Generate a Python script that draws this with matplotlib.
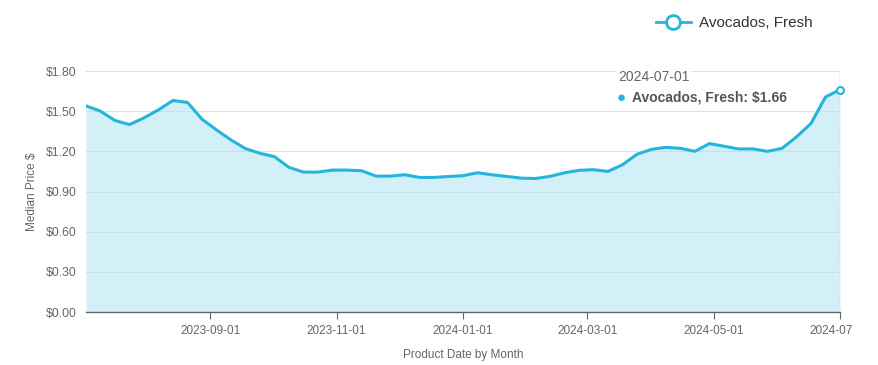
import numpy as np
import pandas as pd
import matplotlib
matplotlib.use("Agg")
import matplotlib.pyplot as plt
import matplotlib.dates as mdates
from matplotlib.lines import Line2D
from matplotlib.transforms import Bbox

# 週次の中央値価格 (2023-07-03 〜 2024-07-01, 月曜)
dates = pd.date_range("2023-07-03", "2024-07-01", freq="7D")
prices = [1.54, 1.50, 1.43, 1.40, 1.45, 1.51, 1.58, 1.565, 1.44, 1.36,
          1.285, 1.22, 1.185, 1.16, 1.08, 1.045, 1.045, 1.06, 1.06, 1.055,
          1.015, 1.015, 1.025, 1.005, 1.005, 1.012, 1.018, 1.04, 1.025, 1.013,
          1.00, 0.997, 1.013, 1.04, 1.058, 1.063, 1.05, 1.10, 1.178, 1.215,
          1.23, 1.222, 1.20, 1.258, 1.238, 1.218, 1.218, 1.20, 1.222, 1.308,
          1.408, 1.606, 1.66]
series_name = "Avocados, Fresh"
tick_dates = ["2023-09-01", "2023-11-01", "2024-01-01", "2024-03-01", "2024-05-01", "2024-07-01"]
y_ticks = [0.0, 0.3, 0.6, 0.9, 1.2, 1.5, 1.8]

line_c = "#25b4dc"
fill_c = "#d3f0f8"
text_c = "#666666"

plt.rcParams["font.family"] = ["Liberation Sans", "DejaVu Sans"]

fig = plt.figure(figsize=(8.79, 3.65), dpi=100)
ax = fig.add_axes([86 / 879, 53 / 365, 754 / 879, 241 / 365])

ax.fill_between(dates, prices, 0, color=fill_c, lw=0, zorder=1)
ax.plot(dates, prices, color=line_c, lw=2.2, zorder=3, solid_joinstyle="round")

# グリッド
for v in y_ticks[1:]:
    ax.axhline(v, color="#c9d7e3", lw=0.8, alpha=0.7, zorder=2)

ax.set_xlim(dates[0], dates[-1])
ax.set_ylim(0, 1.8)
ax.set_yticks(y_ticks)
ax.set_yticklabels([f"${v:.2f}" for v in y_ticks])
ax.set_xticks(pd.to_datetime(tick_dates))
ax.xaxis.set_major_formatter(mdates.DateFormatter("%Y-%m-%d"))

for s in ["top", "right", "left"]:
    ax.spines[s].set_visible(False)
ax.spines["bottom"].set_color("#666666")
ax.spines["bottom"].set_linewidth(1.0)
ax.tick_params(axis="y", length=0, pad=7, labelsize=8.8, labelcolor=text_c)
ax.tick_params(axis="x", length=5, color="#666666", pad=4, labelsize=8.5, labelcolor=text_c)

ax.set_ylabel("Median Price $", fontsize=8.5, color=text_c, labelpad=5)
ax.set_xlabel("Product Date by Month", fontsize=8.5, color=text_c, labelpad=9)

# 最後のラベルは右端で切れている
last = ax.get_xticklabels()[-1]
last.set_clip_on(True)
last.set_clip_box(Bbox.from_extents(0, 0, 852, 365))

# ツールチップ
ax.axvline(dates[-1], color="#aaaaaa", lw=0.9, ls=(0, (3, 2)), zorder=4)
ax.plot(dates[-1], prices[-1], "o", ms=5, mfc="white", mec=line_c, mew=1.5, zorder=5, clip_on=False)
fig.text(618 / 879, 1 - 77 / 365, "2024-07-01", fontsize=10, color=text_c, va="center",
         bbox=dict(facecolor="white", edgecolor="none", pad=1.5))
fig.text(617 / 879, 1 - 98 / 365, "\u25CF", fontsize=11, color=line_c, va="center")
fig.text(632 / 879, 1 - 98 / 365, f"{series_name}: ${prices[-1]:.2f}", fontsize=10,
         color="#555555", fontweight="bold", va="center")

# 凡例
handle = Line2D([], [], color=line_c, lw=2, marker="o", ms=10, mfc="white", mec=line_c, mew=2)
fig.legend([handle], [series_name], loc="center", bbox_to_anchor=(734 / 879, 1 - 23 / 365),
           frameon=False, fontsize=11, handlelength=2.3, handletextpad=0.5, labelcolor="#333333")

fig.savefig("out.png", dpi=100)
